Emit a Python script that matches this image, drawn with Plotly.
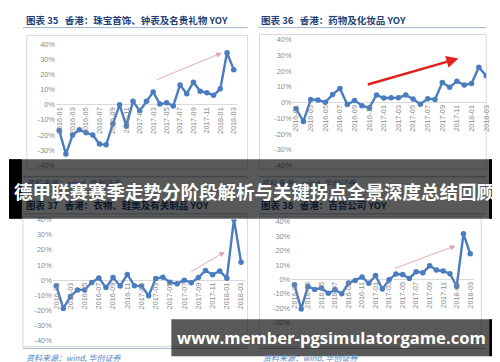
import plotly.graph_objects as go

W, H = 500, 362

# ---------------- data ----------------
months = ["2016-01", "2016-02", "2016-03", "2016-04", "2016-05", "2016-06",
          "2016-07", "2016-08", "2016-09", "2016-10", "2016-11", "2016-12",
          "2017-01", "2017-02", "2017-03", "2017-04", "2017-05", "2017-06",
          "2017-07", "2017-08", "2017-09", "2017-10", "2017-11", "2017-12",
          "2018-01", "2018-02", "2018-03"]
tick_months = months[::2]

jewelry_yoy = [-17, -32.6, -20, -16.5, -18.5, -20, -26, -26.5, -12.6, 0, -14, 2.3,
               -4, 2.3, 8.5, 0.5, 1.3, -0.7, 13.2, 7.4, 15, 9, 8, 6.3, 10.6, 34.5, 23.3]
drugs_yoy = [-3.9, -12, 1.9, 1.7, 0.2, 5.2, 9, -1.2, 1.4, -2, -3.3, 4.8,
             2.9, 3.1, 3.1, 4.8, 2.3, -1, 2.5, 2, 12.8, 9.7, 13.6, 11.2, 12.2, 22.5, 17]
clothing_yoy = [-3.6, -18.6, -10.7, -6.4, -6.4, -1.5, 1.5, -4.9, 1.7, -3.8, 3.8, -3.6,
                -3.8, -10.3, 1.1, 1.9, -1.3, -2.4, 0, -1.7, 1.7, 6.4, 3.6, 6, 1.3, 40, 11.8]
dept_yoy = [-3.6, -20.4, -4.9, -7, -6, -9.6, -7.2, -10, -2.5, -0.7, 1.6, -2.7,
            2.7, -6.7, -0.2, 3.8, 3.4, 0.7, 5.4, 4.7, 9.4, 6.5, 5.8, 4, -4.7, 31.6, 17.7]

y_ticks = [40, 30, 20, 10, 0, -10, -20, -30, -40]
y_tick_text = ["40%", "30%", "20%", "10%", "0%", "-10%", "-20%", "-30%", "-40%"]

titles = ["图表 35\u00a0\u00a0 香港：珠宝首饰、钟表及名贵礼物 YOY",
          "图表 36\u00a0\u00a0 香港：药物及化妆品 YOY",
          "图表 37\u00a0\u00a0 香港：衣物、鞋类及有关制品 YOY",
          "图表 38\u00a0\u00a0 香港：百货公司 YOY"]
source_text = "资料来源：wind, 华创证券"
banner_text = "德甲联赛赛季走势分阶段解析与关键拐点全景深度总结回顾"
url_text = "www.member-pgsimulatorgame.com"

# trend arrows: (tail month index, tail value, head month index, head value)
arrows = [(14.3, 16.2, 24.2, 34.4),
          (9.6, 11.2, 22.2, 28.0),
          (18.8, 5.1, 23.7, 18.6),
          (14.6, 7.2, 23.8, 23.3)]

series = [jewelry_yoy, drugs_yoy, clothing_yoy, dept_yoy]

# ---------------- layout helpers ----------------
def px(x):
    return x / W

def py(y):
    return 1 - y / H

# plot areas in pixels: (x0, x1, y_top(40%), y_bottom(-40%), x range end)
areas = [(47.3, 230.4, 33.3, 157.1, 26.5),
         (286.3, 482.0, 28.3, 157.5, 26.0),
         (44.1, 238.0, 212.7, 337.3, 26.5),
         (284.9, 469.3, 215.0, 333.5, 26.5)]

LINE_BLUE = "#4a7cc0"
TICK_GREY = "#8a8a8a"
TITLE_BLUE = "#1f3f78"
SRC_BLUE = "#4f86c6"

fig = go.Figure()
layout = dict(width=W, height=H, margin=dict(l=0, r=0, t=0, b=0),
              paper_bgcolor="white", plot_bgcolor="rgba(0,0,0,0)",
              showlegend=False)

annotations = []
shapes = []

for i, (vals, area, arr) in enumerate(zip(series, areas, arrows)):
    n = i + 1
    xa = "x" if n == 1 else f"x{n}"
    ya = "y" if n == 1 else f"y{n}"
    x0, x1, yt, yb, xend = area
    fig.add_trace(go.Scatter(
        x=months, y=vals, xaxis=xa, yaxis=ya, mode="lines+markers",
        line=dict(color=LINE_BLUE, width=2.4),
        marker=dict(color=LINE_BLUE, size=5.5),
        cliponaxis=True, hoverinfo="skip"))
    ydom = [py(yb), py(yt)]
    zero_pos = ydom[0] + (0 - (-40)) / 80 * (ydom[1] - ydom[0])
    layout[f"xaxis{'' if n == 1 else n}"] = dict(
        domain=[px(x0), px(x1)], anchor="free", position=zero_pos,
        type="category", range=[-0.5, xend],
        tickmode="array", tickvals=tick_months, ticktext=tick_months,
        tickangle=-90, ticks="", showline=False, showgrid=False,
        zeroline=False, tickfont=dict(family="Liberation Sans", size=7.3, color=TICK_GREY),
        fixedrange=True)
    layout[f"yaxis{'' if n == 1 else n}"] = dict(
        domain=ydom, anchor=xa, range=[-40, 40],
        tickmode="array", tickvals=y_ticks, ticktext=y_tick_text,
        ticks="", showline=False, showgrid=False,
        zeroline=True, zerolinecolor="#d9d9d9", zerolinewidth=1,
        tickfont=dict(family="Liberation Sans", size=7.3, color=TICK_GREY),
        fixedrange=True)
    tx, tyv, hx, hyv = arr
    red = (n == 2)
    annotations.append(dict(
        x=hx, y=hyv, xref=xa, yref=ya, ax=tx, ay=tyv, axref=xa, ayref=ya,
        text="", showarrow=True, arrowhead=2,
        arrowsize=1.0 if red else 1.2, arrowwidth=2.4 if red else 0.9,
        arrowcolor="#e3201b" if red else "#e0a0a8"))

# frames around each chart (pixels)
frames = [(18, 241, 24, 161), (253, 482, 23, 161), (14, 241, 210, 343), (253, 477, 210, 343)]
for (a, b, c, d) in frames:
    shapes.append(dict(type="rect", xref="paper", yref="paper",
                       x0=px(a), x1=px(b), y0=py(d), y1=py(c),
                       line=dict(color="#d9d9d9", width=1), layer="below"))

# title underlines and source lines
for (a, b) in [(14, 241), (252, 482)]:
    for yy in (16, 169, 207, 345):
        shapes.append(dict(type="line", xref="paper", yref="paper",
                           x0=px(a), x1=px(b), y0=py(yy), y1=py(yy),
                           line=dict(color="#9fb3cc", width=1)))

def dim(rgb):
    return "rgb(%d,%d,%d)" % tuple(int(c * 0.35) for c in rgb)

title_pos = [(15, 8, False), (253, 8, False), (15, 198, True), (253, 198, True)]
for t, (xx, yy, dimmed) in zip(titles, title_pos):
    annotations.append(dict(
        x=px(xx), y=py(yy), xref="paper", yref="paper", xanchor="left", yanchor="middle",
        text=t, showarrow=False,
        font=dict(family="Noto Sans CJK SC", size=9.5, weight="bold",
                  color=dim((31, 63, 120)) if dimmed else TITLE_BLUE)))

src_pos = [(15, 175, True), (253, 175, True), (15, 354, False), (255, 354, False)]
for (xx, yy, dimmed) in src_pos:
    annotations.append(dict(
        x=px(xx), y=py(yy), xref="paper", yref="paper", xanchor="left", yanchor="middle",
        text=f"<i>{source_text}</i>", showarrow=False,
        font=dict(family="Noto Sans CJK SC", size=8,
                  color=dim((79, 134, 198)) if dimmed else SRC_BLUE)))

# overlay banners
shapes.append(dict(type="rect", xref="paper", yref="paper", x0=0, x1=1,
                   y0=py(212), y1=py(151), fillcolor="rgba(0,0,0,0.65)",
                   line=dict(width=0), layer="above"))
shapes.append(dict(type="rect", xref="paper", yref="paper", x0=0, x1=px(13),
                   y0=py(212), y1=py(151), fillcolor="black",
                   line=dict(width=0), layer="above"))
shapes.append(dict(type="rect", xref="paper", yref="paper", x0=px(485), x1=1,
                   y0=py(212), y1=py(151), fillcolor="black",
                   line=dict(width=0), layer="above"))
shapes.append(dict(type="rect", xref="paper", yref="paper", x0=px(164), x1=px(485),
                   y0=py(353), y1=py(315), fillcolor="rgba(0,0,0,0.65)",
                   line=dict(width=0), layer="above"))
shapes.append(dict(type="rect", xref="paper", yref="paper", x0=px(485), x1=px(491),
                   y0=py(353), y1=py(315), fillcolor="black",
                   line=dict(width=0), layer="above"))

annotations.append(dict(
    x=px(248), y=py(184), xref="paper", yref="paper", xanchor="center", yanchor="middle",
    text=banner_text, showarrow=False, borderpad=0,
    font=dict(family="Noto Sans CJK SC", size=18.5, weight="bold", color="white")))
annotations.append(dict(
    x=px(326), y=py(334), xref="paper", yref="paper", xanchor="center", yanchor="middle",
    text=url_text, showarrow=False,
    font=dict(family="Open Sans", size=16.6, weight="bold", color="white")))

layout["annotations"] = annotations
layout["shapes"] = shapes
fig.update_layout(**layout)
fig.write_html("out.html")
